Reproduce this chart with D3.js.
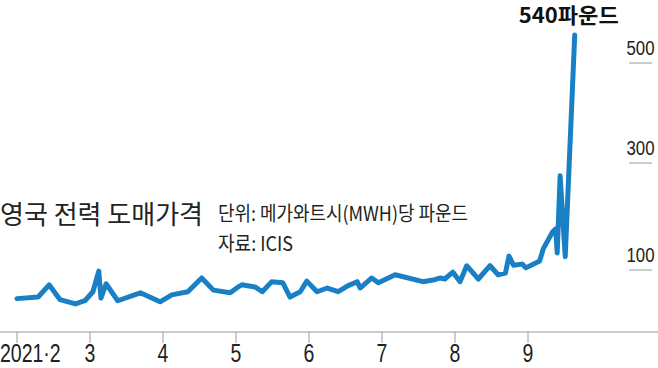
<!DOCTYPE html>
<html>
<head>
<meta charset="utf-8">
<script src="https://cdn.jsdelivr.net/npm/d3@7"></script>
<style>
    body { margin: 0; background: #fff; }
    svg { display: block; }
</style>
</head>
<body>
<svg width="658" height="368"></svg>
<script>
(() => {

    // month position (2 = Feb 1st, 9 = Sep 1st), price in GBP per MWh
    const monthPos = [
        2.00, 2.29, 2.44, 2.59, 2.80, 2.93, 3.04, 3.12, 3.15, 3.22,
        3.38, 3.69, 3.96, 4.12, 4.34, 4.53, 4.69, 4.92, 5.03, 5.08,
        5.26, 5.36, 5.49, 5.64, 5.74, 5.88, 5.97, 6.11, 6.25, 6.40,
        6.53, 6.66, 6.70, 6.86, 6.95, 7.18, 7.56, 7.70, 7.80, 7.86,
        7.97, 8.07, 8.16, 8.32, 8.48, 8.59, 8.69, 8.74, 8.80, 8.92,
        8.97, 9.16, 9.21, 9.34, 9.38, 9.40, 9.44, 9.51, 9.64
    ];
    const prices = [
        46, 49, 72, 44, 36, 42, 59, 98, 47, 74,
        42, 57, 40, 53, 59, 85, 62, 57, 68, 72,
        68, 59, 78, 76, 49, 59, 79, 59, 66, 59,
        70, 78, 66, 85, 76, 91, 78, 81, 85, 83,
        96, 78, 108, 83, 108, 91, 94, 126, 109, 111,
        104, 117, 140, 172, 177, 132, 276, 125, 540
    ];

    const xTicks = [2, 3, 4, 5, 6, 7, 8, 9];
    const xTickLabels = ['2021·2', '3', '4', '5', '6', '7', '8', '9'];
    const yTicks = [100, 300, 500];

    const title = '영국 전력 도매가격';
    const unitText = '단위: 메가와트시(MWH)당 파운드';
    const sourceText = '자료: ICIS';
    const peakText = '540파운드';

    const svg = d3.select('svg');

    const narrow = '"Liberation Sans Narrow", "Noto Sans CJK KR", sans-serif';
    const latinNarrow = '"Liberation Sans Narrow", "Liberation Sans", sans-serif';
    const gothic = '"Noto Sans CJK KR", "Noto Sans", sans-serif';

    const x = d3.scaleLinear()
            .domain([2, 9])
            .range([17, 528]);

    // the original graphic is not evenly spaced, so follow its tick positions
    const y = d3.scaleLinear()
            .domain([0, 100, 300, 500, 540])
            .range([323, 270, 163, 63, 35]);

    const points = monthPos.map((m, i) => ({ m: m, v: prices[i] }));

    // x axis
    const axisY = 332;
    svg.append('line')
            .attr('x1', 0)
            .attr('x2', 658)
            .attr('y1', axisY)
            .attr('y2', axisY)
            .attr('stroke', '#9a9a9a')
            .attr('stroke-width', 1);

    svg.append('g')
            .selectAll('line')
            .data(xTicks)
            .enter().append('line')
            .attr('x1', d => x(d))
            .attr('x2', d => x(d))
            .attr('y1', axisY)
            .attr('y2', axisY + 11)
            .attr('stroke', '#9a9a9a')
            .attr('stroke-width', 1);

    svg.append('g')
            .selectAll('text')
            .data(xTicks)
            .enter().append('text')
            .text((d, i) => xTickLabels[i])
            .attr('transform', (d, i) => `translate(${i === 0 ? 0 : x(d)},362) scale(0.78,1)`)
            .attr('text-anchor', (d, i) => i === 0 ? 'start' : 'middle')
            .attr('font-family', latinNarrow)
            .attr('font-size', '25px')
            .attr('fill', '#222');

    // y labels with short rules under them
    const yg = svg.append('g')
            .selectAll('g')
            .data(yTicks)
            .enter().append('g');

    yg.append('line')
            .attr('x1', 629)
            .attr('x2', 652)
            .attr('y1', d => y(d))
            .attr('y2', d => y(d))
            .attr('stroke', '#9a9a9a')
            .attr('stroke-width', 1);

    yg.append('text')
            .text(d => d)
            .attr('transform', d => `translate(640.5,${y(d) - 8}) scale(0.8,1)`)
            .attr('text-anchor', 'middle')
            .attr('font-family', latinNarrow)
            .attr('font-size', '21px')
            .attr('fill', '#222');

    // price line
    const line = d3.line()
            .x(d => x(d.m))
            .y(d => y(d.v));

    svg.append('path')
            .datum(points)
            .attr('d', line)
            .attr('fill', 'none')
            .attr('stroke', '#1a80c5')
            .attr('stroke-width', 5)
            .attr('stroke-linejoin', 'round')
            .attr('stroke-linecap', 'round');

    // texts
    svg.append('text')
            .text(title)
            .attr('x', 0)
            .attr('y', 224)
            .attr('font-family', gothic)
            .attr('font-size', '26px')
            .attr('fill', '#222');

    svg.append('text')
            .text(unitText)
            .attr('x', 218)
            .attr('y', 221)
            .attr('textLength', 250)
            .attr('lengthAdjust', 'spacingAndGlyphs')
            .attr('font-family', narrow)
            .attr('font-size', '20px')
            .attr('fill', '#222');

    svg.append('text')
            .text(sourceText)
            .attr('x', 218)
            .attr('y', 251)
            .attr('textLength', 75)
            .attr('lengthAdjust', 'spacingAndGlyphs')
            .attr('font-family', narrow)
            .attr('font-size', '20px')
            .attr('fill', '#222');

    const last = points[points.length - 1];
    svg.append('text')
            .text(peakText)
            .attr('x', x(last.m) - 56)
            .attr('y', 23)
            .attr('textLength', 100)
            .attr('lengthAdjust', 'spacingAndGlyphs')
            .attr('font-family', narrow)
            .attr('font-weight', 'bold')
            .attr('font-size', '21px')
            .attr('fill', '#111');

})();
</script>
</body>
</html>
